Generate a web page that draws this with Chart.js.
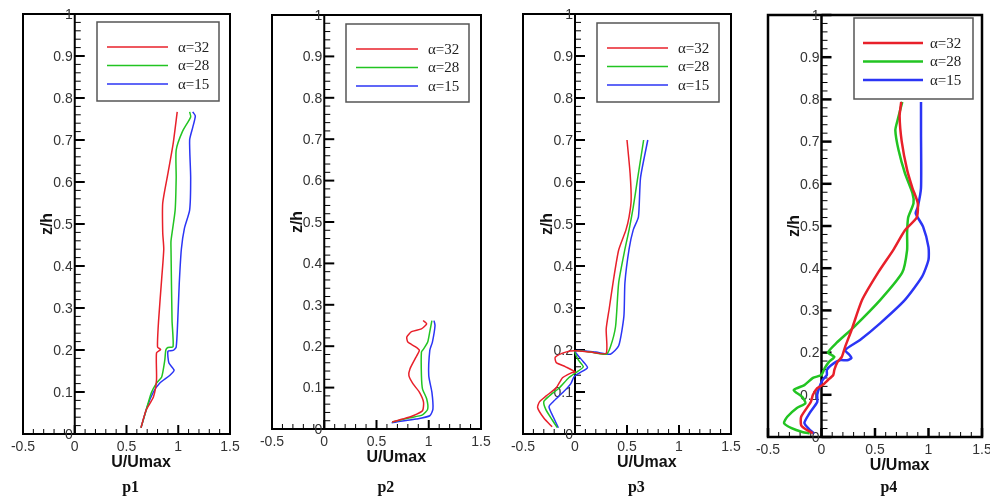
<!DOCTYPE html>
<html><head><meta charset="utf-8">
<script src="https://cdn.jsdelivr.net/npm/chart.js@4.4.0/dist/chart.umd.min.js"></script>
<style>
html,body{margin:0;padding:0;background:#fff;width:990px;height:501px;overflow:hidden}
canvas{position:absolute;left:0;top:0}
</style></head>
<body>
<canvas id="c0" width="990" height="501"></canvas>
<canvas id="c1" width="990" height="501"></canvas>
<canvas id="c2" width="990" height="501"></canvas>
<canvas id="c3" width="990" height="501"></canvas>
<script>
// ---- data ----
const panelNames = ['p1','p2','p3','p4'];
const seriesLabels = ['\u03b1=32','\u03b1=28','\u03b1=15'];
const xTickValues = [-0.5,0,0.5,1,1.5];
const xTickLabels = ['-0.5','0','0.5','1','1.5'];
const yTickValues = [0,0.1,0.2,0.3,0.4,0.5,0.6,0.7,0.8,0.9,1];
const yTickLabels = ['0','0.1','0.2','0.3','0.4','0.5','0.6','0.7','0.8','0.9','1'];
const xTitle = 'U/Umax';
const yTitle = 'z/h';

// [U/Umax, z/h]
const P1_A32 = [[0.64,0.015],[0.69,0.057],[0.76,0.088],[0.79,0.129],[0.79,0.193],[0.83,0.201],[0.80,0.207],[0.81,0.27],[0.84,0.37],[0.86,0.44],[0.85,0.48],[0.85,0.55],[0.90,0.62],[0.95,0.69],[0.99,0.767]];
const P1_A28 = [[0.64,0.015],[0.69,0.057],[0.74,0.098],[0.79,0.121],[0.84,0.136],[0.87,0.176],[0.88,0.200],[0.90,0.206],[0.95,0.208],[0.94,0.27],[0.93,0.44],[0.93,0.46],[0.97,0.533],[0.98,0.61],[0.98,0.676],[1.04,0.72],[1.12,0.755],[1.11,0.767]];
const P1_A15 = [[0.64,0.015],[0.70,0.065],[0.76,0.10],[0.82,0.121],[0.92,0.14],[0.96,0.152],[0.91,0.169],[0.90,0.197],[0.95,0.199],[0.98,0.207],[0.995,0.27],[1.01,0.36],[1.03,0.44],[1.06,0.49],[1.11,0.533],[1.12,0.61],[1.11,0.70],[1.14,0.73],[1.165,0.757],[1.14,0.767]];

const P2_A32 = [[0.65,0.017],[0.75,0.024],[0.85,0.032],[0.94,0.044],[0.95,0.065],[0.91,0.089],[0.85,0.109],[0.81,0.129],[0.82,0.145],[0.87,0.17],[0.91,0.19],[0.87,0.199],[0.80,0.21],[0.79,0.222],[0.835,0.235],[0.93,0.242],[0.98,0.254],[0.946,0.262]];
const P2_A28 = [[0.65,0.017],[0.82,0.027],[0.94,0.034],[0.99,0.048],[0.98,0.073],[0.94,0.097],[0.93,0.129],[0.93,0.186],[0.95,0.193],[0.99,0.21],[1.01,0.235],[1.03,0.262]];
const P2_A15 = [[0.645,0.015],[0.69,0.017],[0.88,0.024],[1.01,0.032],[1.04,0.048],[1.03,0.089],[1.00,0.129],[1.01,0.19],[1.035,0.21],[1.06,0.25],[1.05,0.262]];

const P3_A32 = [[-0.22,0.017],[-0.30,0.038],[-0.36,0.063],[-0.34,0.077],[-0.28,0.09],[-0.18,0.11],[-0.12,0.134],[-0.04,0.145],[0.00,0.148],[-0.09,0.16],[-0.18,0.17],[-0.19,0.183],[-0.09,0.195],[0.00,0.198],[0.15,0.195],[0.30,0.192],[0.30,0.25],[0.33,0.30],[0.37,0.367],[0.42,0.438],[0.49,0.486],[0.52,0.517],[0.54,0.557],[0.53,0.62],[0.50,0.70]];
const P3_A28 = [[-0.17,0.015],[-0.22,0.034],[-0.28,0.058],[-0.30,0.077],[-0.25,0.09],[-0.15,0.11],[-0.06,0.134],[0.02,0.148],[0.08,0.16],[0.03,0.177],[0.00,0.198],[0.15,0.195],[0.30,0.19],[0.34,0.207],[0.39,0.256],[0.42,0.36],[0.48,0.44],[0.52,0.486],[0.56,0.54],[0.60,0.605],[0.66,0.70]];
const P3_A15 = [[-0.16,0.015],[-0.21,0.041],[-0.25,0.065],[-0.21,0.077],[-0.12,0.098],[-0.04,0.12],[-0.01,0.136],[0.04,0.145],[0.12,0.158],[0.08,0.172],[0.00,0.198],[0.20,0.195],[0.34,0.19],[0.42,0.21],[0.47,0.28],[0.48,0.36],[0.52,0.44],[0.56,0.486],[0.61,0.517],[0.63,0.61],[0.70,0.70]];

const P4_A32 = [[-0.08,0.009],[-0.14,0.017],[-0.19,0.028],[-0.19,0.048],[-0.10,0.083],[-0.08,0.10],[-0.04,0.116],[0.01,0.123],[0.06,0.135],[0.11,0.147],[0.12,0.159],[0.15,0.178],[0.19,0.19],[0.22,0.213],[0.28,0.253],[0.38,0.325],[0.53,0.39],[0.67,0.443],[0.78,0.49],[0.89,0.52],[0.90,0.554],[0.85,0.59],[0.80,0.633],[0.75,0.70],[0.73,0.76],[0.745,0.794]];
const P4_A28 = [[-0.11,0.009],[-0.18,0.012],[-0.28,0.021],[-0.35,0.033],[-0.32,0.048],[-0.23,0.069],[-0.15,0.08],[-0.18,0.095],[-0.26,0.111],[-0.16,0.123],[-0.08,0.14],[0.00,0.147],[0.03,0.163],[0.07,0.178],[0.12,0.19],[0.06,0.20],[0.14,0.223],[0.30,0.26],[0.55,0.325],[0.755,0.39],[0.80,0.443],[0.80,0.483],[0.81,0.52],[0.86,0.554],[0.85,0.578],[0.78,0.625],[0.72,0.68],[0.69,0.727],[0.71,0.75],[0.755,0.794]];
const P4_A15 = [[-0.07,0.009],[-0.11,0.017],[-0.16,0.033],[-0.11,0.057],[-0.04,0.083],[-0.04,0.10],[-0.02,0.118],[0.01,0.135],[0.05,0.147],[0.05,0.159],[0.09,0.17],[0.17,0.182],[0.24,0.182],[0.28,0.187],[0.26,0.195],[0.22,0.206],[0.36,0.23],[0.55,0.27],[0.78,0.325],[0.94,0.38],[1.00,0.42],[1.00,0.45],[0.95,0.498],[0.88,0.53],[0.90,0.545],[0.93,0.59],[0.93,0.72],[0.93,0.794]];

const panelSeries = [
  [P1_A32,P1_A28,P1_A15],
  [P2_A32,P2_A28,P2_A15],
  [P3_A32,P3_A28,P3_A15],
  [P4_A32,P4_A28,P4_A15]
];

// ---- layout / style ----
const colors = ['#e8202a','#22c422','#2b35f5'];
const layouts = [
  {l:23, r:230, t:14, b:434, lw:1.5, fw:2,   leg:{x:97, y:22, w:122,h:79, lx:10,ll:61,ly:25,ls:18.5,tx:81}, titleU:0.54},
  {l:272,r:481, t:15, b:429, lw:1.5, fw:2,   leg:{x:346,y:24, w:123,h:78, lx:10,ll:62,ly:25,ls:18.5,tx:82}, titleU:0.59},
  {l:523,r:731, t:14, b:434, lw:1.5, fw:2,   leg:{x:597,y:23, w:122,h:79, lx:10,ll:61,ly:25,ls:18.5,tx:81}, titleU:0.59},
  {l:768,r:982, t:15, b:437, lw:2.5, fw:2.5, leg:{x:854,y:18, w:119,h:81, lx:9, ll:60,ly:25,ls:18.5,tx:76}, titleU:0.63}
];
const SANS = '"Liberation Sans", Arial, sans-serif';
const SERIF = '"Liberation Serif", "Times New Roman", serif';

const framePlugin = {
  id: 'frame',
  beforeDatasetsDraw(chart, args, o) {
    const {ctx, chartArea: a, scales: {x, y}} = chart;
    const x0 = x.getPixelForValue(0);
    ctx.save();
    ctx.strokeStyle = '#000';
    ctx.lineCap = 'butt';
    // x ticks (inside, upward)
    for (let i = -5; i <= 15; i++) {
      const px = x.getPixelForValue(i / 10);
      const major = i % 5 === 0;
      ctx.lineWidth = major ? o.fw : 1;
      ctx.beginPath();
      ctx.moveTo(px, a.bottom);
      ctx.lineTo(px, a.bottom - (major ? 9 : 5));
      ctx.stroke();
    }
    // y ticks (to the right of the axis at U=0)
    for (let i = 0; i <= 50; i++) {
      const py = y.getPixelForValue(i / 50);
      const major = i % 5 === 0;
      ctx.lineWidth = major ? o.fw : 1;
      ctx.beginPath();
      ctx.moveTo(x0, py);
      ctx.lineTo(x0 + (major ? 10 : 6), py);
      ctx.stroke();
    }
    // y axis line
    ctx.lineWidth = o.fw;
    ctx.beginPath();
    ctx.moveTo(x0, a.bottom);
    ctx.lineTo(x0, a.top);
    ctx.stroke();
    // frame
    ctx.strokeRect(a.left, a.top, a.right - a.left, a.bottom - a.top);
    // y tick labels
    ctx.fillStyle = '#333';
    ctx.font = '14px ' + SANS;
    ctx.textAlign = 'right';
    ctx.textBaseline = 'middle';
    yTickValues.forEach((v, i) => {
      ctx.fillText(yTickLabels[i], x0 - 2, y.getPixelForValue(v) + 1);
    });
    // y title
    ctx.fillStyle = '#111';
    ctx.font = 'bold 16px ' + SANS;
    ctx.save();
    ctx.translate(x0 - 27, y.getPixelForValue(0.5));
    ctx.rotate(-Math.PI / 2);
    ctx.textAlign = 'center';
    ctx.textBaseline = 'middle';
    ctx.fillText(yTitle, 0, 0);
    ctx.restore();
    // x title
    ctx.textAlign = 'center';
    ctx.textBaseline = 'middle';
    ctx.fillText(xTitle, x.getPixelForValue(o.titleU + 0.1), a.bottom + 29);
    // panel name
    ctx.font = 'bold 16px ' + SERIF;
    ctx.fillText(o.name, x.getPixelForValue(o.titleU), 488);
    ctx.restore();
  },
  afterDatasetsDraw(chart, args, o) {
    const {ctx} = chart;
    const g = o.leg;
    ctx.save();
    ctx.fillStyle = '#fff';
    ctx.fillRect(g.x, g.y, g.w, g.h);
    ctx.strokeStyle = '#555';
    ctx.lineWidth = 1.5;
    ctx.strokeRect(g.x, g.y, g.w, g.h);
    chart.data.datasets.forEach((ds, k) => {
      const ly = g.y + g.ly + k * g.ls;
      ctx.strokeStyle = ds.borderColor;
      ctx.lineWidth = ds.borderWidth;
      ctx.beginPath();
      ctx.moveTo(g.x + g.lx, ly);
      ctx.lineTo(g.x + g.lx + g.ll, ly);
      ctx.stroke();
      ctx.fillStyle = '#222';
      ctx.font = '15px ' + SERIF;
      ctx.textAlign = 'left';
      ctx.textBaseline = 'middle';
      ctx.fillText(ds.label, g.x + g.tx, ly + 1);
    });
    ctx.restore();
  }
};

panelNames.forEach((name, p) => {
  const L = layouts[p];
  new Chart(document.getElementById('c' + p), {
    type: 'scatter',
    data: {
      datasets: panelSeries[p].map((pts, k) => ({
        label: seriesLabels[k],
        data: pts.map(([u, z]) => ({x: u, y: z})),
        showLine: true,
        borderColor: colors[k],
        backgroundColor: colors[k],
        borderWidth: L.lw,
        pointRadius: 0,
        tension: 0.2,
        fill: false
      }))
    },
    options: {
      responsive: false,
      animation: false,
      events: [],
      layout: {padding: {left: L.l, right: 990 - L.r, top: L.t, bottom: 0}},
      plugins: {
        legend: {display: false},
        tooltip: {enabled: false},
        frame: {name, fw: L.fw, leg: L.leg, titleU: L.titleU}
      },
      scales: {
        x: {
          type: 'linear', min: -0.5, max: 1.5,
          afterBuildTicks: s => { s.ticks = xTickValues.map(v => ({value: v})); },
          afterFit: s => { s.height = 501 - L.b; s.paddingLeft = 0; s.paddingRight = 0; },
          grid: {display: false, drawTicks: false},
          border: {display: false},
          ticks: {
            autoSkip: false, maxRotation: 0, padding: 5,
            color: '#333',
            font: {family: SANS, size: 14},
            callback: (v, i) => xTickLabels[i]
          }
        },
        y: {
          type: 'linear', min: 0, max: 1, display: false,
          afterBuildTicks: s => { s.ticks = yTickValues.map(v => ({value: v})); }
        }
      }
    },
    plugins: [framePlugin]
  });
});
</script>
</body></html>
